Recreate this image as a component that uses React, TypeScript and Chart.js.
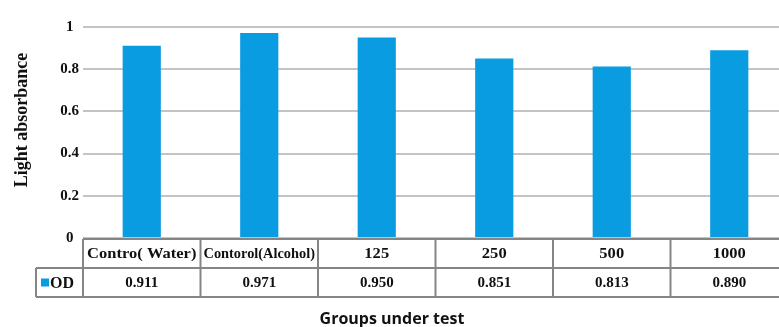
import React, { useEffect, useRef } from "react";
import { Chart, registerables } from "chart.js";

Chart.register(...registerables);

const categories = ["Contro( Water)", "Contorol(Alcohol)", "125", "250", "500", "1000"];
const seriesName = "OD";
const odValues = [0.911, 0.971, 0.95, 0.851, 0.813, 0.89];
const yTickValues = [0, 0.2, 0.4, 0.6, 0.8, 1];
const yTitle = "Light absorbance";
const xTitle = "Groups under test";

const BAR_COLOR = "#0a9ce0";
const LINE_COLOR = "#858585";
const SERIF = '"Liberation Serif", "Times New Roman", serif';

const tablePlugin = {
  id: "dataTable",
  afterDraw(chart: any) {
    const { ctx, chartArea, scales } = chart;
    const xs = scales.x;
    const n = categories.length;
    const colW = (chartArea.right - chartArea.left) / n;
    const top = chartArea.bottom + 1;
    const rowH = 29;
    const legendLeft = 36;
    ctx.save();
    // text
    ctx.fillStyle = "#111";
    ctx.textAlign = "center";
    ctx.textBaseline = "middle";
    for (let i = 0; i < n; i++) {
      const cx = xs.getPixelForValue(i);
      ctx.font = "bold 14px " + SERIF;
      const w = ctx.measureText(categories[i]).width;
      const s = Math.min(1.18, (colW - 6) / w);
      ctx.save();
      ctx.translate(cx, top + rowH / 2 + 1);
      ctx.scale(s, 1);
      ctx.fillText(categories[i], 0, 0);
      ctx.restore();
      ctx.font = "bold 15px " + SERIF;
      ctx.fillText(odValues[i].toFixed(3), cx, top + rowH * 1.5 + 1);
    }
    // legend cell
    ctx.fillStyle = BAR_COLOR;
    ctx.fillRect(legendLeft + 5, top + rowH * 1.5 - 4, 8, 8);
    ctx.fillStyle = "#111";
    ctx.textAlign = "left";
    ctx.font = "bold 16px " + SERIF;
    ctx.fillText(seriesName, legendLeft + 14, top + rowH * 1.5 + 1);

    // lines
    ctx.strokeStyle = LINE_COLOR;
    ctx.lineWidth = 2;
    ctx.beginPath();
    ctx.moveTo(chartArea.left, top);
    ctx.lineTo(chart.width, top);
    ctx.moveTo(legendLeft, top + rowH);
    ctx.lineTo(chart.width, top + rowH);
    ctx.moveTo(legendLeft, top + rowH * 2);
    ctx.lineTo(chart.width, top + rowH * 2);
    ctx.moveTo(legendLeft, top + rowH);
    ctx.lineTo(legendLeft, top + rowH * 2);
    for (let i = 0; i <= n; i++) {
      const x = xs.getPixelForValue(i) - colW / 2;
      ctx.moveTo(x, top);
      ctx.lineTo(x, top + rowH * 2);
    }
    ctx.stroke();

    // axis titles
    ctx.fillStyle = "#111";
    ctx.textAlign = "center";
    ctx.textBaseline = "middle";
    ctx.font = 'bold 16px "Open Sans", sans-serif';
    ctx.fillText(xTitle, 392, 319);
    ctx.save();
    ctx.translate(22, 120);
    ctx.rotate(-Math.PI / 2);
    ctx.font = "bold 18px " + SERIF;
    ctx.fillText(yTitle, 0, 0);
    ctx.restore();
    ctx.restore();
  },
};

export default function App() {
  const ref = useRef<HTMLCanvasElement>(null);
  useEffect(() => {
    document.body.style.margin = "0";
    const chart = new Chart(ref.current as HTMLCanvasElement, {
      type: "bar",
      data: {
        labels: categories,
        datasets: [
          {
            label: seriesName,
            data: odValues,
            backgroundColor: BAR_COLOR,
            borderWidth: 0,
            barPercentage: 0.325,
            categoryPercentage: 1,
          },
        ],
      },
      options: {
        animation: false,
        responsive: true,
        maintainAspectRatio: false,
        layout: { padding: { top: 27, right: 12, left: 0, bottom: 0 } },
        plugins: { legend: { display: false }, tooltip: { enabled: false } },
        scales: {
          x: {
            grid: { display: false },
            border: { display: false },
            ticks: { display: false },
            afterFit(scale: any) {
              scale.height = 89;
            },
          },
          y: {
            min: 0,
            max: 1,
            afterBuildTicks(scale: any) {
              scale.ticks = yTickValues.map((v) => ({ value: v }));
            },
            grid: { color: "#c4c4c4", lineWidth: 2, drawTicks: false },
            border: { display: false },
            ticks: {
              padding: 4,
              crossAlign: "center",
              color: "#111",
              font: { family: SERIF, size: 15, weight: "bold" },
              callback: (v: any) => String(Number(v)),
            },
            afterFit(scale: any) {
              scale.width = 83;
            },
          },
        },
      },
      plugins: [tablePlugin],
    });
    return () => chart.destroy();
  }, []);
  return (
    <div style={{ position: "fixed", left: 0, top: 0, width: 779, height: 327, overflow: "hidden", background: "#fff" }}>
      <div style={{ width: 800, height: 327, position: "relative" }}>
        <canvas ref={ref} />
      </div>
    </div>
  );
}
